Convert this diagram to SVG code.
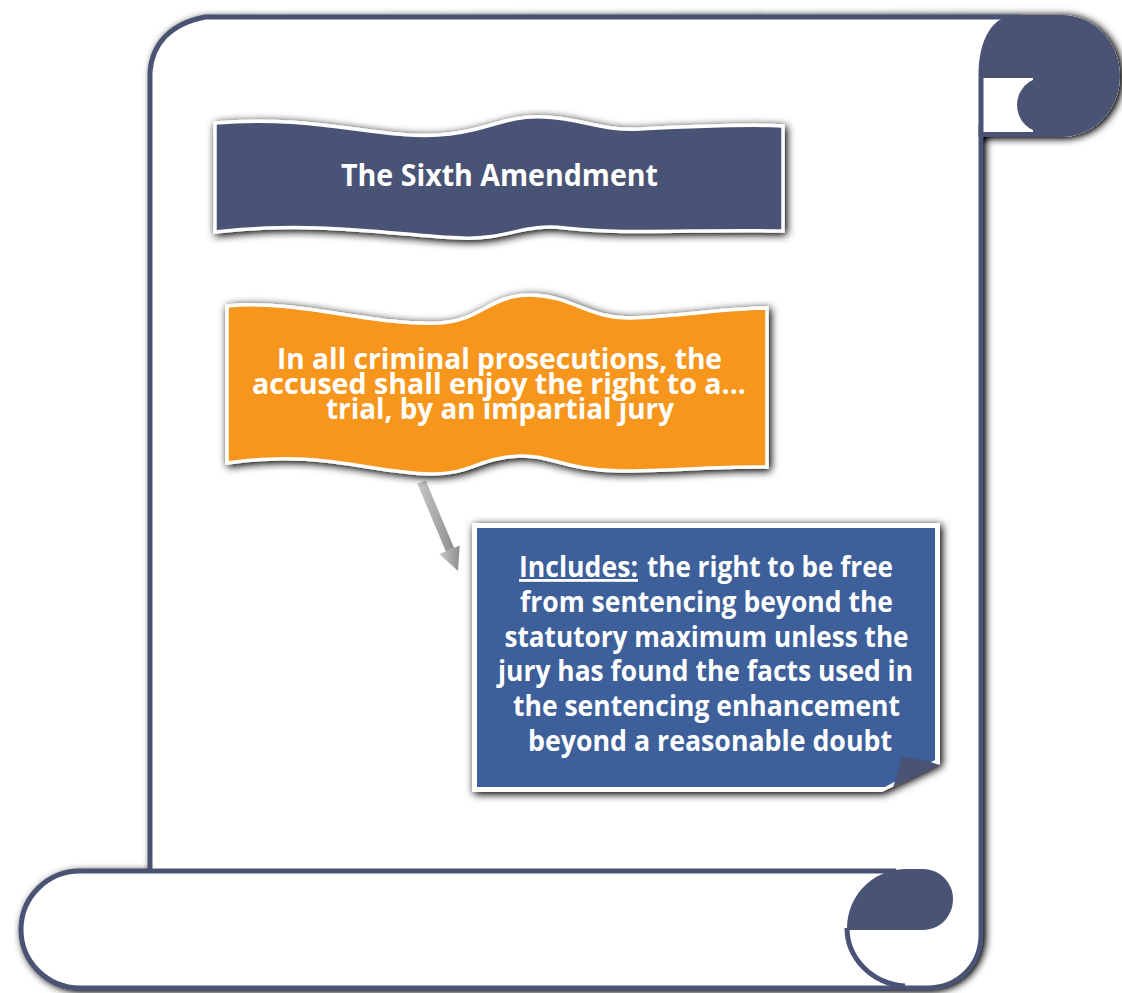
<svg xmlns="http://www.w3.org/2000/svg" width="1122" height="993" viewBox="0 0 1122 993">
<defs>
<filter id="sh" x="-5%" y="-5%" width="110%" height="110%">
<feGaussianBlur in="SourceAlpha" stdDeviation="4.5"/>
<feOffset dx="2" dy="1"/>
<feComponentTransfer><feFuncA type="linear" slope="1.3"/></feComponentTransfer>
<feMerge><feMergeNode/><feMergeNode in="SourceGraphic"/></feMerge>
</filter>
<filter id="shb" x="-10%" y="-20%" width="120%" height="140%">
<feGaussianBlur in="SourceAlpha" stdDeviation="4.5"/>
<feOffset dx="2" dy="2"/>
<feComponentTransfer><feFuncA type="linear" slope="1.1"/></feComponentTransfer>
<feMerge><feMergeNode/><feMergeNode in="SourceGraphic"/></feMerge>
</filter>
<linearGradient id="ag" x1="0" y1="0" x2="1" y2="0">
<stop offset="0" stop-color="#c8c8c8"/>
<stop offset="1" stop-color="#8e8e8e"/>
</linearGradient>
<style>
.ln{fill:none;stroke:#4a5374;stroke-width:5}
.dk{fill:#4a5374}
.t{font-family:"Open Sans","Liberation Sans",sans-serif;font-weight:bold;fill:#ffffff;text-anchor:middle}
.tl{font-family:"Open Sans","Liberation Sans",sans-serif;font-weight:bold;fill:#ffffff}
.ban{stroke:#ffffff;stroke-width:3.5}
</style>
</defs>
<rect width="1122" height="993" fill="#ffffff"/>
<g id="scroll">
<path filter="url(#sh)" fill="#ffffff" d="M 80 871 L 150 871 L 150 75 C 150 42 172 22 205 17 L 1017 15 L 1062 15 C 1094 15 1120 42 1120 76 C 1120 110 1094 137 1062 137 L 983 137 L 983 935 C 983 966 959 990 927 990 L 80 990 A 60 59.5 0 0 1 80 871 Z"/>
<path class="ln" d="M 150 873 L 150 72 C 152 44 170 24 205 17 L 1020 17"/>
<path class="ln" d="M 981 125 L 981 935 C 981 965 958 988 927 988 L 80 988 A 59 58.5 0 0 1 80 871 L 896 871"/>
<path class="dk" d="M 1017 15 L 1062 15 C 1094 15 1120 42 1120 76 C 1120 110 1094 137 1062 137 L 978.5 137 L 978.5 75 C 978.5 40 992 15 1017 15 Z"/>
<rect x="983.5" y="78" width="49.5" height="54" fill="#ffffff"/>
<circle class="dk" cx="1045" cy="105" r="28"/>
<path class="dk" d="M 847 928 C 847 898 870 870 905 869 L 923 869 C 940 869 953 883 953 899 C 953 916 940 930 923 930 L 847 930 Z"/>
<path class="ln" d="M 847 928 C 847 958 872 984 905 986"/>
</g>
<g id="connectors">
<polygon fill="url(#ag)" points="417.3,483.5 425.7,480.5 454.2,548.2 445.8,551.2"/>
<polygon fill="url(#ag)" points="458,571 439.3,554 459.7,545.4"/>
</g>
<g id="title-banner">
<path class="ban" fill="#4a5374" filter="url(#shb)" d="M 215 123 C 320 114 385 142 450 134 C 492 129 505 115 545 117 C 585 119 600 131 640 129 C 700 126 750 124 783 126 L 783 231 C 700 229 625 235 565 228 C 525 223 505 240 462 238 C 400 236 320 220 215 232 Z"/>
<text class="t" x="499.5" y="186" font-size="30" textLength="317" lengthAdjust="spacingAndGlyphs">The Sixth Amendment</text>
</g>
<g id="text-banner">
<path class="ban" fill="#f6961e" filter="url(#shb)" d="M 227 306 C 300 299 370 326 440 323 C 480 321 490 295 530 295 C 570 295 590 319 630 318 C 680 316 730 308 767 308 L 767 467 C 720 466 670 471 620 471 C 570 471 550 455 520 456 C 480 457 470 475 430 474 C 370 473 320 449 227 463 Z"/>
<text class="t" x="499.5" y="369" font-size="29" textLength="445" lengthAdjust="spacingAndGlyphs">In all criminal prosecutions, the</text>
<text class="t" x="499" y="394" font-size="29" textLength="494" lengthAdjust="spacingAndGlyphs">accused shall enjoy the right to a...</text>
<text class="t" x="500" y="419" font-size="29" textLength="348" lengthAdjust="spacingAndGlyphs">trial, by an impartial jury</text>
</g>
<g id="includes-box">
<path fill="#ffffff" filter="url(#shb)" d="M 472 523 L 940 523 L 940 764 L 882 792 L 472 792 Z"/>
<path fill="#3d5f9a" d="M 477 528 L 935 528 L 935 760 L 885 787 L 477 787 Z"/>
<path fill="#4a5374" d="M 902 757 C 898 770 896 780 893 787 L 940 765 C 928 761 915 758 902 757 Z"/>
<text class="tl" x="519" y="577" font-size="28" textLength="119" lengthAdjust="spacingAndGlyphs" text-decoration="underline">Includes:</text>
<text class="tl" x="647" y="577" font-size="28" textLength="246" lengthAdjust="spacingAndGlyphs">the right to be free</text>
<text class="t" x="706.5" y="612" font-size="28" textLength="373" lengthAdjust="spacingAndGlyphs">from sentencing beyond the</text>
<text class="t" x="706.5" y="646.5" font-size="28" textLength="404" lengthAdjust="spacingAndGlyphs">statutory maximum unless the</text>
<text class="t" x="705.5" y="681" font-size="28" textLength="415" lengthAdjust="spacingAndGlyphs">jury has found the facts used in</text>
<text class="t" x="706.5" y="716" font-size="28" textLength="387" lengthAdjust="spacingAndGlyphs">the sentencing enhancement</text>
<text class="t" x="710" y="750.5" font-size="28" textLength="364" lengthAdjust="spacingAndGlyphs">beyond a reasonable doubt</text>
</g>
</svg>
